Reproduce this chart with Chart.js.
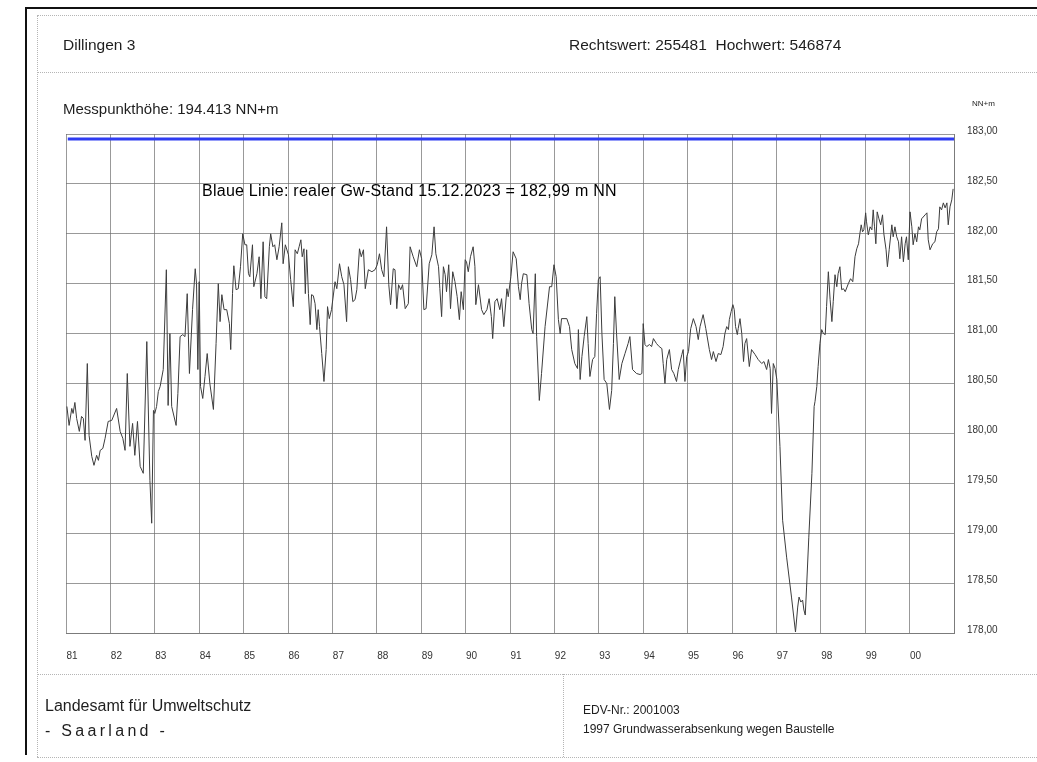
<!DOCTYPE html>
<html>
<head>
<meta charset="utf-8">
<script src="https://cdn.jsdelivr.net/npm/chart.js@4.4.0/dist/chart.umd.min.js"></script>
<style>
  body { margin: 0; background: #fff; }
  #blatt { position: relative; width: 1037px; height: 762px; overflow: hidden; font-family: "Liberation Sans", Arial, sans-serif; color: #1e1e1e; }
  #blatt canvas { position: absolute; left: 0; top: 0; }
  .txt { position: absolute; white-space: nowrap; line-height: 1; }
  .linieH { position: absolute; height: 0; border-top: 1px dotted #b5b5b5; }
  .linieV { position: absolute; width: 0; border-left: 1px dotted #b5b5b5; }
</style>
</head>
<body>
<div id="blatt">
  <canvas id="grafik" width="1037" height="762"></canvas>

  <!-- Rahmen vom Scan -->
  <div style="position:absolute;left:25px;top:7px;width:1012px;height:2px;background:#111"></div>
  <div style="position:absolute;left:25px;top:7px;width:2px;height:748px;background:#111"></div>

  <!-- Formularlinien -->
  <div class="linieH" style="left:37px;top:15px;width:1000px"></div>
  <div class="linieH" style="left:37px;top:72px;width:1000px"></div>
  <div class="linieH" style="left:37px;top:674px;width:1000px"></div>
  <div class="linieH" style="left:37px;top:757px;width:1000px"></div>
  <div class="linieV" style="left:37px;top:15px;height:742px"></div>
  <div class="linieV" style="left:563px;top:674px;height:83px"></div>

  <div class="txt" style="left:63px;top:37px;font-size:15.5px">Dillingen 3</div>
  <div class="txt" style="left:569px;top:37px;font-size:15.5px">Rechtswert: 255481&nbsp;&nbsp;Hochwert: 546874</div>
  <div class="txt" style="left:63px;top:101px;font-size:15px">Messpunkthöhe: 194.413 NN+m</div>
  <div class="txt" style="left:972px;top:100px;font-size:8px">NN+m</div>
  <div class="txt" style="left:202px;top:183px;font-size:16px;letter-spacing:0.25px;color:#000">Blaue Linie: realer Gw-Stand 15.12.2023 = 182,99 m NN</div>

  <div class="txt" style="left:45px;top:698px;font-size:16px">Landesamt für Umweltschutz</div>
  <div class="txt" style="left:45px;top:723px;font-size:16px;letter-spacing:3.3px">- Saarland -</div>
  <div class="txt" style="left:583px;top:704px;font-size:12px">EDV-Nr.: 2001003</div>
  <div class="txt" style="left:583px;top:723px;font-size:12px">1997 Grundwasserabsenkung wegen Baustelle</div>
</div>

<script>
// Messwerte Dillingen 3 (Zeit in Jahren, Gw-Stand in m NN)
var jahre = [
  1981.02, 1981.07, 1981.13, 1981.16, 1981.20, 1981.24, 1981.30, 1981.35, 1981.39, 1981.43,
  1981.48, 1981.52, 1981.58, 1981.63, 1981.69, 1981.73, 1981.77, 1981.83, 1981.88, 1981.95,
  1982.03, 1982.14, 1982.22, 1982.28, 1982.33, 1982.38, 1982.44, 1982.50, 1982.55, 1982.61,
  1982.67, 1982.74, 1982.82, 1982.89, 1982.93, 1982.97, 1983.00, 1983.04, 1983.08, 1983.12,
  1983.19, 1983.26, 1983.30, 1983.34, 1983.38, 1983.48, 1983.52, 1983.57, 1983.63, 1983.68,
  1983.73, 1983.78, 1983.85, 1983.91, 1983.94, 1983.97, 1984.00, 1984.03, 1984.08, 1984.13,
  1984.18, 1984.24, 1984.32, 1984.38, 1984.43, 1984.47, 1984.51, 1984.56, 1984.62, 1984.68,
  1984.71, 1984.75, 1984.78, 1984.83, 1984.88, 1984.93, 1984.98, 1985.03, 1985.07, 1985.11,
  1985.14, 1985.20, 1985.23, 1985.30, 1985.35, 1985.39, 1985.44, 1985.48, 1985.52, 1985.58,
  1985.61, 1985.66, 1985.70, 1985.75, 1985.80, 1985.86, 1985.89, 1985.94, 1986.01, 1986.06,
  1986.12, 1986.16, 1986.21, 1986.25, 1986.29, 1986.32, 1986.36, 1986.39, 1986.42, 1986.46,
  1986.50, 1986.53, 1986.57, 1986.61, 1986.65, 1986.68, 1986.71, 1986.76, 1986.81, 1986.86,
  1986.89, 1986.93, 1986.98, 1987.06, 1987.10, 1987.16, 1987.21, 1987.26, 1987.32, 1987.36,
  1987.41, 1987.46, 1987.51, 1987.55, 1987.61, 1987.65, 1987.70, 1987.74, 1987.81, 1987.89,
  1987.96, 1988.01, 1988.06, 1988.11, 1988.16, 1988.22, 1988.27, 1988.31, 1988.37, 1988.41,
  1988.45, 1988.49, 1988.54, 1988.58, 1988.64, 1988.71, 1988.75, 1988.82, 1988.90, 1988.96,
  1989.01, 1989.06, 1989.11, 1989.18, 1989.24, 1989.29, 1989.33, 1989.39, 1989.42, 1989.46,
  1989.50, 1989.54, 1989.57, 1989.62, 1989.66, 1989.71, 1989.76, 1989.81, 1989.86, 1989.90,
  1989.95, 1989.99, 1990.02, 1990.06, 1990.11, 1990.17, 1990.21, 1990.23, 1990.29, 1990.36,
  1990.41, 1990.48, 1990.53, 1990.58, 1990.61, 1990.66, 1990.71, 1990.77, 1990.81, 1990.86,
  1990.93, 1990.96, 1991.02, 1991.07, 1991.14, 1991.19, 1991.23, 1991.26, 1991.30, 1991.38,
  1991.43, 1991.49, 1991.52, 1991.57, 1991.60, 1991.66, 1991.71, 1991.79, 1991.89, 1991.94,
  1991.99, 1992.04, 1992.09, 1992.13, 1992.16, 1992.28, 1992.34, 1992.39, 1992.46, 1992.52,
  1992.54, 1992.58, 1992.62, 1992.67, 1992.73, 1992.76, 1992.80, 1992.86, 1992.91, 1992.95,
  1992.99, 1993.03, 1993.07, 1993.12, 1993.18, 1993.24, 1993.29, 1993.33, 1993.36, 1993.40,
  1993.46, 1993.52, 1993.59, 1993.66, 1993.70, 1993.76, 1993.85, 1993.93, 1993.97, 1994.00,
  1994.04, 1994.08, 1994.14, 1994.19, 1994.23, 1994.30, 1994.36, 1994.42, 1994.45, 1994.49,
  1994.53, 1994.59, 1994.64, 1994.69, 1994.75, 1994.79, 1994.87, 1994.90, 1994.94, 1994.98,
  1995.02, 1995.07, 1995.13, 1995.19, 1995.24, 1995.28, 1995.35, 1995.41, 1995.49, 1995.54,
  1995.58, 1995.64, 1995.69, 1995.75, 1995.80, 1995.84, 1995.88, 1995.92, 1995.94, 1995.98,
  1996.02, 1996.05, 1996.08, 1996.12, 1996.14, 1996.18, 1996.22, 1996.26, 1996.29, 1996.33,
  1996.39, 1996.44, 1996.52, 1996.59, 1996.67, 1996.72, 1996.78, 1996.82, 1996.86, 1996.89,
  1996.93, 1996.97, 1997.01, 1997.08, 1997.14, 1997.23, 1997.34, 1997.43, 1997.48, 1997.51,
  1997.55, 1997.59, 1997.62, 1997.65, 1997.68, 1997.73, 1997.80, 1997.85, 1997.87, 1997.91,
  1997.94, 1997.98, 1998.02, 1998.06, 1998.10, 1998.13, 1998.17, 1998.21, 1998.25, 1998.28,
  1998.32, 1998.36, 1998.39, 1998.43, 1998.47, 1998.51, 1998.55, 1998.62, 1998.67, 1998.72,
  1998.77, 1998.81, 1998.85, 1998.88, 1998.91, 1998.94, 1998.97, 1999.01, 1999.03, 1999.07,
  1999.11, 1999.15, 1999.18, 1999.21, 1999.24, 1999.27, 1999.31, 1999.35, 1999.39, 1999.42,
  1999.47, 1999.50, 1999.54, 1999.60, 1999.63, 1999.67, 1999.71, 1999.75, 1999.78, 1999.82,
  1999.86, 1999.90, 1999.93, 1999.97, 2000.01, 2000.05, 2000.08, 2000.12, 2000.16, 2000.20,
  2000.23, 2000.27, 2000.35, 2000.39, 2000.42, 2000.46, 2000.52, 2000.57, 2000.61, 2000.65,
  2000.68, 2000.72, 2000.76, 2000.80, 2000.84, 2000.87, 2000.91, 2000.95, 2000.98
];

var stand = [
  180.27, 180.08, 180.25, 180.20, 180.31, 180.15, 180.02, 180.17, 180.15, 179.93,
  180.70, 179.98, 179.77, 179.68, 179.78, 179.73, 179.83, 179.85, 179.95, 180.12,
  180.13, 180.25, 180.02, 179.95, 179.83, 180.60, 179.87, 180.10, 179.78, 180.12,
  179.67, 179.60, 180.92, 179.53, 179.10, 180.23, 180.20, 180.27, 180.42, 180.47,
  180.64, 181.64, 180.28, 181.00, 180.27, 180.08, 180.40, 180.97, 180.99, 180.97,
  181.40, 180.60, 181.24, 181.65, 181.50, 180.64, 181.52, 180.47, 180.35, 180.57,
  180.80, 180.50, 180.24, 180.90, 181.50, 181.12, 181.39, 181.24, 181.24, 181.10,
  180.84, 181.40, 181.68, 181.44, 181.45, 181.67, 182.00, 181.89, 181.89, 181.60,
  181.57, 181.89, 181.47, 181.60, 181.77, 181.35, 181.92, 181.37, 181.35, 181.87,
  182.00, 181.87, 181.89, 181.74, 181.87, 182.11, 181.70, 181.89, 181.79, 181.54,
  181.27, 181.84, 181.80, 181.87, 181.94, 181.77, 181.85, 181.40, 181.84, 181.40,
  181.09, 181.39, 181.38, 181.30, 181.04, 181.24, 181.07, 180.80, 180.52, 180.84,
  181.27, 181.15, 181.24, 181.52, 181.45, 181.70, 181.57, 181.49, 181.12, 181.67,
  181.54, 181.32, 181.34, 181.44, 181.85, 181.77, 181.84, 181.45, 181.64, 181.62,
  181.64, 181.69, 181.80, 181.64, 181.57, 182.07, 181.49, 181.29, 181.65, 181.64,
  181.25, 181.49, 181.44, 181.49, 181.25, 181.30, 181.87, 181.77, 181.67, 181.84,
  181.75, 181.24, 181.25, 181.70, 181.79, 182.07, 181.80, 181.67, 181.45, 181.17,
  181.67, 181.59, 181.42, 181.69, 181.25, 181.62, 181.52, 181.37, 181.14, 181.42,
  181.24, 181.74, 181.72, 181.62, 181.77, 181.87, 181.67, 181.29, 181.49, 181.24,
  181.19, 181.24, 181.35, 181.17, 180.95, 181.32, 181.35, 181.24, 181.35, 181.07,
  181.45, 181.37, 181.57, 181.82, 181.75, 181.47, 181.34, 181.50, 181.60, 181.59,
  181.30, 181.04, 181.00, 181.60, 180.97, 180.33, 180.60, 181.07, 181.47, 181.47,
  181.69, 181.57, 181.14, 181.00, 181.15, 181.15, 181.07, 180.84, 180.70, 180.65,
  181.04, 180.54, 180.77, 180.97, 181.17, 180.90, 180.57, 180.74, 180.77, 181.20,
  181.54, 181.57, 181.00, 180.54, 180.50, 180.24, 180.43, 180.90, 181.37, 181.00,
  180.54, 180.70, 180.80, 180.90, 180.97, 180.64, 180.60, 180.59, 180.60, 181.10,
  180.89, 180.87, 180.89, 180.87, 180.95, 180.90, 180.87, 180.85, 180.70, 180.50,
  180.74, 180.84, 180.64, 180.60, 180.52, 180.64, 180.79, 180.84, 180.52, 180.77,
  180.82, 181.05, 181.15, 181.07, 180.94, 181.07, 181.19, 181.05, 180.84, 180.74,
  180.82, 180.72, 180.80, 180.79, 180.87, 181.00, 181.07, 181.04, 181.14, 181.22,
  181.29, 181.24, 181.07, 180.99, 181.05, 181.15, 181.00, 180.72, 180.90, 180.95,
  180.67, 180.84, 180.79, 180.74, 180.70, 180.72, 180.64, 180.74, 180.65, 180.20,
  180.70, 180.65, 180.54, 179.87, 179.13, 178.76, 178.36, 178.01, 178.26, 178.36,
  178.31, 178.33, 178.23, 178.18, 178.46, 178.96, 179.60, 180.27, 180.32, 180.47,
  180.67, 180.90, 181.04, 181.00, 180.99, 181.27, 181.62, 181.34, 181.12, 181.32,
  181.59, 181.47, 181.60, 181.67, 181.44, 181.45, 181.42, 181.50, 181.55, 181.52,
  181.77, 181.85, 181.90, 182.00, 182.09, 182.02, 182.04, 182.21, 182.12, 181.99,
  182.07, 182.04, 182.24, 182.07, 181.90, 182.22, 182.15, 182.09, 182.19, 182.00,
  181.84, 181.67, 181.84, 182.09, 181.97, 182.07, 181.97, 181.92, 181.75, 181.97,
  181.72, 181.90, 181.97, 181.74, 182.22, 182.07, 181.89, 182.00, 181.92, 182.07,
  182.04, 182.15, 182.19, 182.21, 181.94, 181.84, 181.90, 181.92, 182.02, 182.05,
  182.27, 182.24, 182.31, 182.26, 182.31, 182.09, 182.27, 182.34, 182.45
];

// blaue Linie (realer Gw-Stand)
var blauX = [1981.04, 2001];
var blauWert = 182.95;

// Achsen
var xMin = 1981, xMax = 2001;
var yMin = 178, yMax = 183, yStep = 0.5;

var grau = 'rgba(110, 110, 110, 0.7)';

var punkte = jahre.map(function (j, i) { return { x: j, y: stand[i] }; });
var blauPunkte = blauX.map(function (j) { return { x: j, y: blauWert }; });

var ctx = document.getElementById('grafik').getContext('2d');
var grafik = new Chart(ctx, {
    type: 'line',
    data: {
        datasets: [{
            label: 'Gw-Stand',
            data: punkte,
            borderColor: '#3c3c3c',
            borderWidth: 1,
            pointRadius: 0,
            tension: 0,
            fill: false
        }, {
            label: 'realer Gw-Stand 15.12.2023',
            data: blauPunkte,
            borderColor: '#2f3cf2',
            borderWidth: 3,
            pointRadius: 0,
            fill: false
        }]
    },
    options: {
        responsive: false,
        animation: false,
        layout: { padding: { left: 66, top: 134, right: 0, bottom: 89 } },
        plugins: {
            legend: { display: false },
            tooltip: { enabled: false }
        },
        scales: {
            x: {
                type: 'linear',
                min: xMin,
                max: xMax,
                grid: { color: grau, lineWidth: 1, drawTicks: false },
                border: { color: grau },
                ticks: {
                    stepSize: 1,
                    autoSkip: false,
                    maxRotation: 0,
                    padding: 17,
                    labelOffset: 6,
                    color: '#333',
                    font: { family: 'Liberation Sans', size: 10 },
                    callback: function (v) {
                        if (v >= xMax) return '';
                        var s = String(v % 100);
                        return s.length < 2 ? '0' + s : s;
                    }
                },
                afterFit: function (achse) { achse.height = 40; }
            },
            y: {
                position: 'right',
                min: yMin,
                max: yMax,
                grid: { color: grau, lineWidth: 1, drawTicks: false },
                border: { color: grau },
                ticks: {
                    stepSize: yStep,
                    padding: 13,
                    labelOffset: -3,
                    color: '#333',
                    font: { family: 'Liberation Sans', size: 10 },
                    callback: function (v) { return v.toFixed(2).replace('.', ','); }
                },
                afterFit: function (achse) { achse.width = 83; }
            }
        }
    }
});
</script>
</body>
</html>
